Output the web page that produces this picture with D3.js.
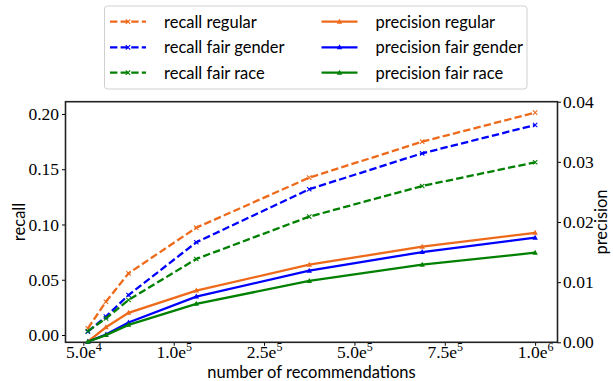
<!DOCTYPE html>
<meta charset="utf-8">
<style>
  body { margin: 0; background: #fff; }
  .lbl { fill: #000; }
</style>
<body>
<script src="https://cdn.jsdelivr.net/npm/d3@7"></script>
<script>

  // top-k cut-offs along x, with the tick labels the figure shows
  var ks = [1, 5, 10, 25, 50, 75, 100];
  var xTicks = [0, 20, 40, 60, 80, 100];
  var xTickBase = ["5.0e", "1.0e", "2.5e", "5.0e", "7.5e", "1.0e"];
  var xTickExp = ["4", "5", "5", "5", "5", "6"];

  var recallRegular = [0.0060, 0.0301, 0.0558, 0.0971, 0.1424, 0.1749, 0.2012];
  var recallGender  = [0.0030, 0.0166, 0.0362, 0.0839, 0.1319, 0.1644, 0.1900];
  var recallRace    = [0.0035, 0.0151, 0.0317, 0.0688, 0.1071, 0.1348, 0.1563];
  var precisionRegular = [0.0001, 0.0025, 0.0049, 0.0086, 0.0129, 0.0159, 0.0182];
  var precisionGender  = [0.0001, 0.0013, 0.0033, 0.0076, 0.0119, 0.0150, 0.0174];
  var precisionRace    = [0.0001, 0.0012, 0.0029, 0.0064, 0.0102, 0.0129, 0.0149];

  var recallTicks = [0, 0.05, 0.10, 0.15, 0.20];
  var precisionTicks = [0, 0.01, 0.02, 0.03, 0.04];

  var orange = "#ee6a1b", blue = "#0000ff", green = "#008000";
  var SERIF = '"Liberation Serif", serif';
  var SANS = 'Lato, "Open Sans", sans-serif';

  var series = [
    {name: "recall regular", vals: recallRegular, axis: "l", color: orange, mark: "x"},
    {name: "recall fair gender", vals: recallGender, axis: "l", color: blue, mark: "x"},
    {name: "recall fair race", vals: recallRace, axis: "l", color: green, mark: "x"},
    {name: "precision regular", vals: precisionRegular, axis: "r", color: orange, mark: "^"},
    {name: "precision fair gender", vals: precisionGender, axis: "r", color: blue, mark: "^"},
    {name: "precision fair race", vals: precisionRace, axis: "r", color: green, mark: "^"}
  ];

  var W = 613, H = 381;
  var L = 65.5, R = 557.5, T = 101.7, B = 342.3;

  var svg = d3.select("body").append("svg").attr("width", W).attr("height", H);

  var x = d3.scaleLinear().domain([-3.95, 104.95]).range([L, R]);
  var yL = d3.scaleLinear().domain([-0.0066, 0.2111]).range([B, T]);
  var yR = d3.scaleLinear().domain([0, 0.04]).range([B, T]);

  // axes
  var gx = svg.append("g").attr("transform", "translate(0," + B + ")")
    .call(d3.axisBottom(x).tickValues(xTicks).tickSize(3.5).tickFormat(""));
  gx.selectAll(".tick text").remove();
  gx.selectAll(".tick").append("text")
    .attr("y", 15.5).attr("text-anchor", "middle").attr("fill", "#000")
    .style("font-family", SERIF).style("font-size", "17.5px")
    .each(function(d, i) {
      var t = d3.select(this);
      t.append("tspan").text(xTickBase[i]);
      t.append("tspan").attr("dy", -7).style("font-size", "12px").text(xTickExp[i]);
    });

  var gl = svg.append("g").attr("transform", "translate(" + L + ",0)")
    .call(d3.axisLeft(yL).tickValues(recallTicks).tickSize(3.5).tickPadding(3).tickFormat(d3.format(".2f")));
  var gr = svg.append("g").attr("transform", "translate(" + R + ",0)")
    .call(d3.axisRight(yR).tickValues(precisionTicks).tickSize(3.5).tickPadding(2).tickFormat(d3.format(".2f")));
  [gl, gr].forEach(function(g) {
    g.selectAll(".tick text").attr("fill", "#000")
      .style("font-family", SERIF).style("font-size", "17.5px");
  });

  svg.selectAll(".domain").remove();
  svg.selectAll(".tick line").attr("stroke", "#000").attr("stroke-width", 1);

  // frame
  svg.append("rect").attr("x", L).attr("y", T).attr("width", R - L).attr("height", B - T)
    .attr("fill", "none").attr("stroke", "#222").attr("stroke-width", 1.6);

  // axis titles
  function title(sel) {
    return sel.attr("class", "lbl").style("font-family", SANS).style("font-size", "16.5px")
      .attr("text-anchor", "middle");
  }
  title(svg.append("text")).attr("x", (L + R) / 2).attr("y", 378).text("number of recommendations");
  title(svg.append("text"))
    .attr("transform", "translate(25," + (T + B) / 2 + ") rotate(-90)").text("recall");
  title(svg.append("text"))
    .attr("transform", "translate(607," + (T + B) / 2 + ") rotate(-90)").text("precision");

  function drawMark(g, mark, color) {
    if (mark == "x") {
      g.append("path").attr("d", "M-2.2,-2.2L2.2,2.2M-2.2,2.2L2.2,-2.2")
        .attr("stroke", color).attr("stroke-width", 1.1).attr("fill", "none");
    } else {
      g.append("path").attr("d", "M0,-3L2.7,2L-2.7,2Z").attr("fill", color);
    }
  }

  var plot = svg.append("g");
  series.forEach(function(s) {
    var y = s.axis == "l" ? yL : yR;
    var line = d3.line().x((d, i) => x(ks[i])).y(d => y(d));
    plot.append("path").datum(s.vals).attr("d", line)
      .attr("fill", "none").attr("stroke", s.color).attr("stroke-width", 2.3)
      .attr("stroke-dasharray", s.mark == "x" ? "7.4,3.2" : null);
    s.vals.forEach(function(v, i) {
      drawMark(plot.append("g").attr("transform", "translate(" + x(ks[i]) + "," + y(v) + ")"), s.mark, s.color);
    });
  });

  // legend
  var lg = svg.append("g");
  lg.append("rect").attr("x", 104.5).attr("y", 6).attr("width", 422.5).attr("height", 83)
    .attr("rx", 3).attr("fill", "#fff").attr("stroke", "#d0d0d0").attr("stroke-width", 1);
  var colX = [110, 321.5], rowY = [21.7, 47.3, 72.7];
  series.forEach(function(s, i) {
    var cx = colX[Math.floor(i / 3)], cy = rowY[i % 3];
    var item = lg.append("g").attr("transform", "translate(" + cx + "," + cy + ")");
    item.append("line").attr("x1", 0).attr("x2", 36).attr("stroke", s.color).attr("stroke-width", 2.3)
      .attr("stroke-dasharray", s.mark == "x" ? "7.4,3.2" : null);
    drawMark(item.append("g").attr("transform", "translate(18,0)"), s.mark, s.color);
    item.append("text").attr("class", "lbl").attr("x", 54).attr("y", 6)
      .style("font-family", SANS).style("font-size", "16.5px").text(s.name);
  });

</script>
</body>
</html>
